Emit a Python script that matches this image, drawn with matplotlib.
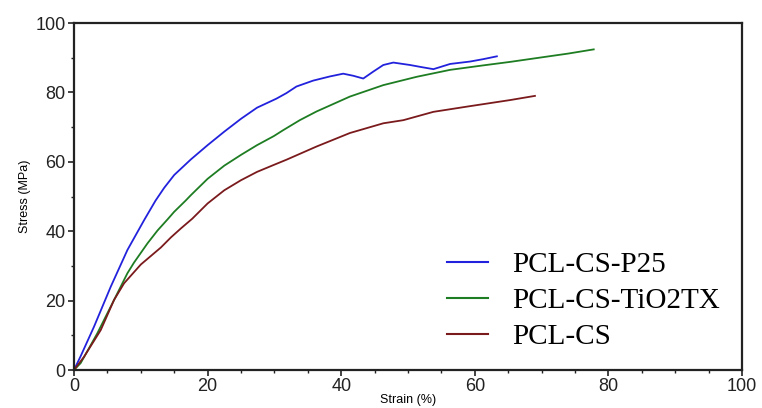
import matplotlib
matplotlib.use("Agg")
import matplotlib.pyplot as plt
from matplotlib.ticker import MultipleLocator

# strain (%) / stress (MPa)
p25_strain = [0, 1.0, 3.0, 5.5, 8.0, 10.5, 12.2, 13.5, 15.0, 17.5, 20.0, 22.5,
              25.0, 27.4, 30.3, 31.8, 33.3, 35.8, 38.3, 40.3, 41.8, 43.3, 44.8,
              46.3, 47.8, 50.3, 52.0, 53.8, 56.3, 59.3, 61.3, 63.3]
p25_stress = [0, 4.0, 12.5, 24.0, 34.6, 43.2, 48.8, 52.5, 56.2, 60.7, 64.8, 68.7,
              72.4, 75.6, 78.2, 79.8, 81.7, 83.4, 84.6, 85.4, 84.8, 84.0, 86.0,
              87.9, 88.6, 87.9, 87.3, 86.7, 88.2, 88.9, 89.6, 90.4]

tx_strain = [0, 1.0, 3.5, 6.0, 8.0, 9.0, 11.0, 12.5, 14.0, 15.0, 16.7, 17.5,
             20.0, 22.5, 25.0, 27.4, 29.9, 31.3, 33.8, 36.3, 41.3, 46.3, 51.3, 56.3,
             61.3, 65.3, 70.0, 74.0, 77.8]
tx_stress = [0, 2.0, 10.6, 20.2, 27.9, 31.0, 36.5, 40.2, 43.4, 45.6, 48.8, 50.4,
             55.1, 58.9, 62.0, 64.8, 67.4, 69.1, 72.0, 74.5, 78.8, 82.1, 84.5, 86.5,
             87.8, 88.8, 90.1, 91.2, 92.4]

cs_strain = [0, 1.5, 4.0, 6.0, 7.5, 10.0, 13.0, 14.5, 16.0, 17.7, 20.0, 22.5,
             25.0, 27.4, 29.9, 31.8, 36.3, 41.3, 46.3, 49.3, 53.8, 58.8, 65.3, 69.0]
cs_stress = [0, 3.8, 11.5, 20.2, 25.0, 30.4, 35.3, 38.2, 40.8, 43.6, 48.0, 51.8,
             54.7, 57.1, 59.1, 60.6, 64.4, 68.3, 71.1, 72.0, 74.4, 75.9, 77.8, 79.0]

labels = ["PCL-CS-P25", "PCL-CS-TiO2TX", "PCL-CS"]
colors = ["#2222dd", "#1e7d22", "#7a1a1c"]

fig = plt.figure(figsize=(7.62, 4.08), dpi=100)
ax = fig.add_axes([0.0971, 0.0931, 0.8767, 0.8505])

ax.plot(p25_strain, p25_stress, color=colors[0], lw=1.3, label=labels[0])
ax.plot(tx_strain, tx_stress, color=colors[1], lw=1.3, label=labels[1])
ax.plot(cs_strain, cs_stress, color=colors[2], lw=1.3, label=labels[2])

ax.set_xlim(0, 100)
ax.set_ylim(0, 100)
ax.xaxis.set_major_locator(MultipleLocator(20))
ax.xaxis.set_minor_locator(MultipleLocator(5))
ax.yaxis.set_major_locator(MultipleLocator(20))
ax.yaxis.set_minor_locator(MultipleLocator(10))
ax.tick_params(which="major", direction="out", length=4, width=1.2,
               labelsize=13, colors="#222222", pad=2)
ax.tick_params(which="minor", direction="out", length=2.5, width=1.0, colors="#222222")
for t in ax.get_xticklabels() + ax.get_yticklabels():
    t.set_family("Liberation Sans")
for s in ax.spines.values():
    s.set_linewidth(1.6)
    s.set_color("#222222")

ax.set_xlabel("Strain (%)", fontsize=9, family="Liberation Sans", labelpad=-1)
ax.set_ylabel("Stress (MPa)", fontsize=9, family="Liberation Sans", labelpad=3)

leg = ax.legend(loc="lower left", bbox_to_anchor=(0.558, 0.058), frameon=False,
                prop={"family": "Liberation Serif", "size": 21},
                handlelength=1.4, handletextpad=0.85, labelspacing=0.32,
                borderpad=0, borderaxespad=0)
for h in leg.get_lines():
    h.set_linewidth(1.5)

fig.savefig("out.png", dpi=100)
